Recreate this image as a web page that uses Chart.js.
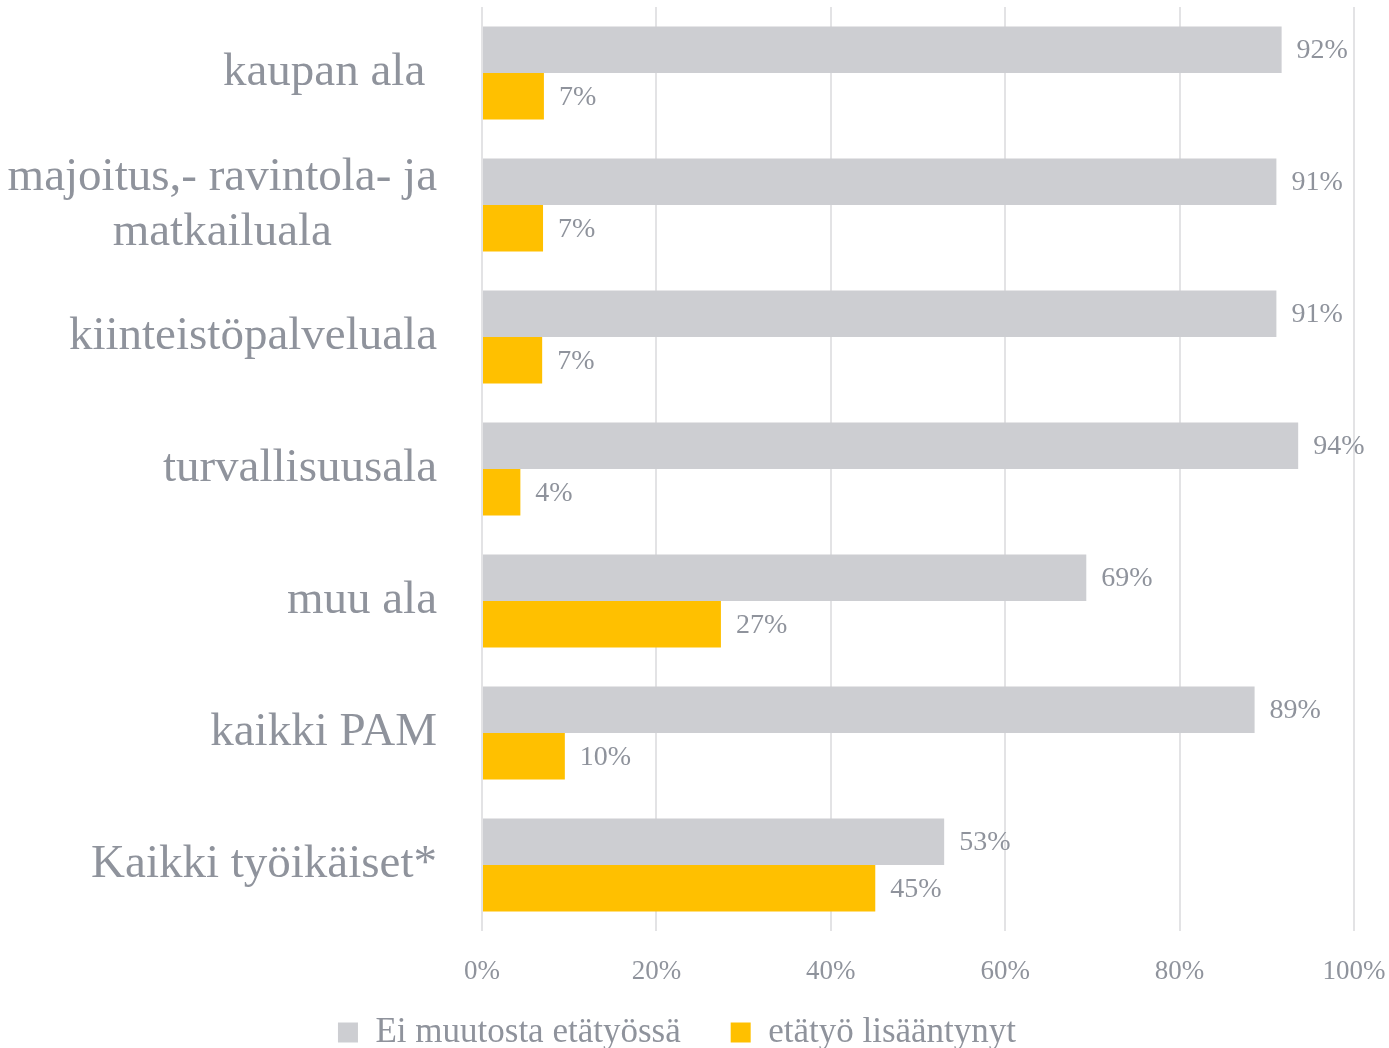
<!DOCTYPE html>
<html>
<head>
<meta charset="utf-8">
<script src="https://cdn.jsdelivr.net/npm/chart.js@4"></script>
<style>
  html, body { margin: 0; padding: 0; background: #fff; overflow: hidden; }
  #wrap { width: 1389px; height: 1060px; }
</style>
</head>
<body>
<div id="wrap"><canvas id="chart"></canvas></div>
<script>
// categories, top to bottom
const categories = [
    ['kaupan ala '],
    ['majoitus,- ravintola- ja', 'matkailuala'],
    ['kiinteistöpalveluala'],
    ['turvallisuusala'],
    ['muu ala'],
    ['kaikki PAM'],
    ['Kaikki työikäiset*']
];
// (percent)
const eiMuutosta = [91.7, 91.1, 91.1, 93.6, 69.3, 88.6, 53.0];
const lisaantynyt = [7.1, 7.0, 6.9, 4.4, 27.4, 9.5, 45.1];
const xTicks = [0, 20, 40, 60, 80, 100];

const textGray = '#8f939c';
const fontFam = '"Liberation Serif", serif';

// axis labels drawn from the scales (y: lines centred on widest line)
const axisLabels = {
    id: 'axisLabels',
    afterDraw(chart) {
        const ctx = chart.ctx;
        const y = chart.scales.y;
        const x = chart.scales.x;
        ctx.save();
        ctx.fillStyle = textGray;
        ctx.textBaseline = 'middle';
        ctx.font = '47px ' + fontFam;
        ctx.textAlign = 'center';
        const right = 437;
        const lh = 55;
        categories.forEach((lines, i) => {
            const w = Math.max(...lines.map(l => ctx.measureText(l).width));
            const cx = right - w / 2;
            const cy = y.getPixelForValue(i);
            lines.forEach((l, j) => {
                ctx.fillText(l, cx, cy + (j - (lines.length - 1) / 2) * lh);
            });
        });
        ctx.font = '27px ' + fontFam;
        xTicks.forEach(v => {
            ctx.fillText(v + '%', x.getPixelForValue(v), x.top + 41);
        });
        ctx.restore();
    }
};

// value labels at bar ends
const valueLabels = {
    id: 'valueLabels',
    afterDatasetsDraw(chart) {
        const ctx = chart.ctx;
        ctx.save();
        ctx.font = '28px ' + fontFam;
        ctx.fillStyle = textGray;
        ctx.textAlign = 'left';
        ctx.textBaseline = 'middle';
        chart.data.datasets.forEach((ds, di) => {
            chart.getDatasetMeta(di).data.forEach((bar, i) => {
                ctx.fillText(Math.round(ds.data[i]) + '%', bar.x + 15, bar.y + 1);
            });
        });
        ctx.restore();
    }
};

new Chart(document.getElementById('chart'), {
    type: 'bar',
    data: {
        labels: categories.map(c => c.join(' ')),
        datasets: [
            {
                label: 'Ei muutosta etätyössä',
                data: eiMuutosta,
                backgroundColor: '#cdced2'
            },
            {
                label: 'etätyö lisääntynyt',
                data: lisaantynyt,
                backgroundColor: '#ffc000'
            }
        ]
    },
    options: {
        indexAxis: 'y',
        responsive: true,
        maintainAspectRatio: false,
        animation: false,
        layout: {
            padding: { top: 7, right: 35, bottom: 0 }
        },
        datasets: {
            bar: {
                categoryPercentage: 0.705,
                barPercentage: 1.0
            }
        },
        plugins: {
            legend: {
                position: 'bottom',
                labels: {
                    color: textGray,
                    font: { family: fontFam, size: 35 },
                    boxWidth: 20,
                    boxHeight: 20,
                    padding: 50
                }
            },
            tooltip: { enabled: false }
        },
        scales: {
            x: {
                min: 0,
                max: 100,
                afterBuildTicks(scale) {
                    scale.ticks = xTicks.map(v => ({ value: v }));
                },
                ticks: { display: false },
                afterFit(scale) {
                    scale.height = 34;
                    scale.paddingRight = 0;
                    scale.paddingLeft = 0;
                },
                grid: {
                    color: '#e3e3e5',
                    lineWidth: 2,
                    drawTicks: false
                },
                border: { display: false }
            },
            y: {
                ticks: { display: false },
                grid: { display: false },
                border: { display: false },
                afterFit(scale) {
                    scale.width = 482;
                }
            }
        }
    },
    plugins: [axisLabels, valueLabels]
});
</script>
</body>
</html>
